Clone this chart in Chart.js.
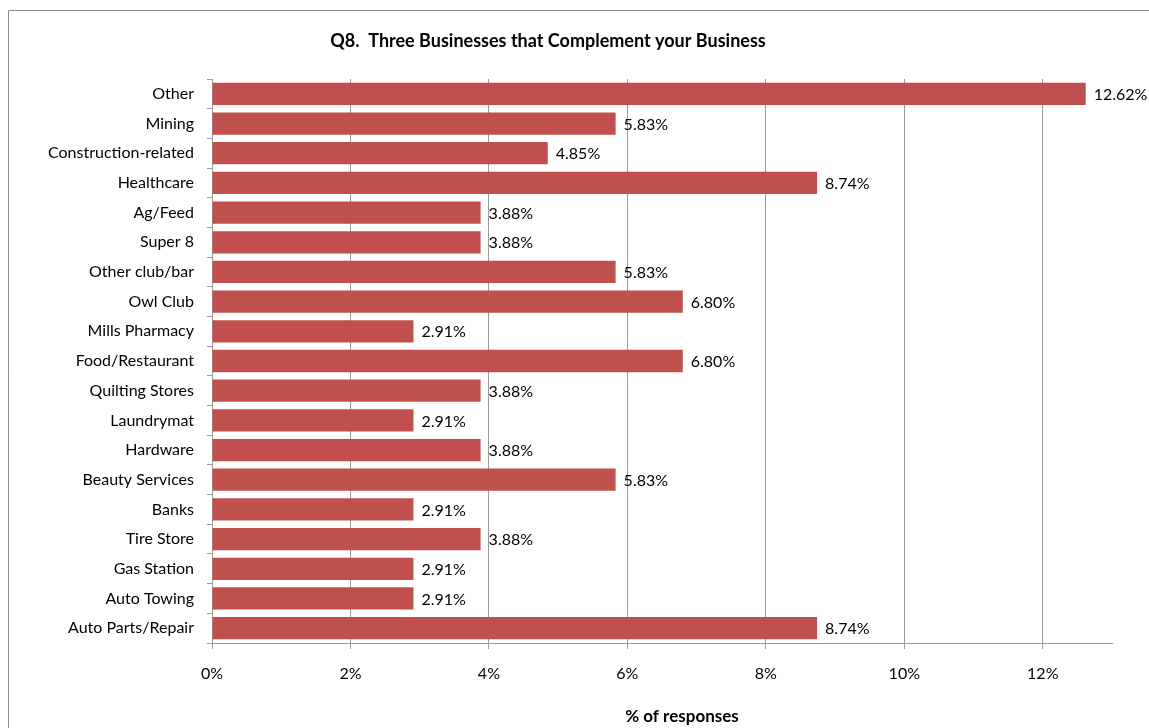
<!DOCTYPE html>
<html>
<head>
<meta charset="utf-8">
<script src="https://cdn.jsdelivr.net/npm/chart.js@4/dist/chart.umd.min.js"></script>
<style>
  html, body { margin: 0; padding: 0; background: #fff; }
  #wrap { position: relative; width: 1149px; height: 728px; }
</style>
</head>
<body>
<div id="wrap"><canvas id="c" width="1149" height="728"></canvas></div>
<script>
// Survey answers, top row first
const categories = [
  'Other', 'Mining', 'Construction-related', 'Healthcare', 'Ag/Feed', 'Super 8',
  'Other club/bar', 'Owl Club', 'Mills Pharmacy', 'Food/Restaurant', 'Quilting Stores',
  'Laundrymat', 'Hardware', 'Beauty Services', 'Banks', 'Tire Store', 'Gas Station',
  'Auto Towing', 'Auto Parts/Repair'
];
const percentages = [
  12.62, 5.83, 4.85, 8.74, 3.88, 3.88,
  5.83, 6.80, 2.91, 6.80, 3.88,
  2.91, 3.88, 5.83, 2.91, 3.88, 2.91,
  2.91, 8.74
];
const xTickValues = [0, 2, 4, 6, 8, 10, 12];
const chartTitle = 'Q8.  Three Businesses that Complement your Business';
const xAxisTitle = '% of responses';

const FONT = 'Lato, "Open Sans", sans-serif';

// Outer frame, chart heading and axis caption
const framePlugin = {
  id: 'frame',
  beforeDraw(chart) {
    const ctx = chart.ctx;
    ctx.save();
    ctx.fillStyle = '#fff';
    ctx.fillRect(0, 0, chart.width, chart.height);
    ctx.strokeStyle = '#8c8c8c';
    ctx.lineWidth = 1;
    ctx.beginPath();
    ctx.moveTo(8.5, chart.height);
    ctx.lineTo(8.5, 10.5);
    ctx.lineTo(chart.width, 10.5);
    ctx.stroke();
    ctx.fillStyle = '#000';
    ctx.textAlign = 'center';
    ctx.textBaseline = 'middle';
    ctx.font = 'bold 18px ' + FONT;
    ctx.fillText(chartTitle, 548, 41);
    ctx.font = 'bold 17px ' + FONT;
    ctx.fillText(xAxisTitle, 682, 717);
    ctx.restore();
  }
};

// Value labels to the right of each bar
const valueLabels = {
  id: 'valueLabels',
  afterDatasetsDraw(chart) {
    const ctx = chart.ctx;
    const meta = chart.getDatasetMeta(0);
    ctx.save();
    ctx.fillStyle = '#000';
    ctx.font = '16px ' + FONT;
    ctx.textAlign = 'left';
    ctx.textBaseline = 'middle';
    meta.data.forEach((bar, i) => {
      ctx.fillText(percentages[i].toFixed(2) + '%', bar.x + 8, bar.y + 1);
    });
    ctx.restore();
  }
};

new Chart(document.getElementById('c'), {
  type: 'bar',
  data: {
    labels: categories,
    datasets: [{
      data: percentages,
      backgroundColor: '#c0504d',
      borderWidth: 0,
      barPercentage: 0.75,
      categoryPercentage: 1.0
    }]
  },
  options: {
    indexAxis: 'y',
    responsive: false,
    animation: false,
    layout: { padding: { top: 79, right: 37, left: 0, bottom: 0 } },
    plugins: {
      legend: { display: false },
      title: { display: false },
      tooltip: { enabled: false }
    },
    scales: {
      x: {
        min: 0,
        max: 13,
        afterBuildTicks(scale) {
          scale.ticks = xTickValues.map(v => ({ value: v }));
        },
        afterFit(scale) { scale.height = 85; },
        grid: {
          color: '#9a9a9a',
          lineWidth: 1,
          drawTicks: true,
          tickLength: 6,
          tickColor: '#9a9a9a'
        },
        border: { display: true, color: '#9a9a9a' },
        ticks: {
          color: '#000',
          font: { family: FONT, size: 16 },
          padding: 15,
          maxRotation: 0,
          callback: v => v + '%'
        },
        title: { display: false }
      },
      y: {
        afterFit(scale) { scale.width = 212; },
        grid: {
          offset: true,
          drawOnChartArea: false,
          drawTicks: true,
          tickLength: 5,
          tickColor: '#9a9a9a'
        },
        border: { display: true, color: '#9a9a9a' },
        ticks: {
          color: '#000',
          font: { family: FONT, size: 16 },
          padding: 13,
          autoSkip: false
        }
      }
    }
  },
  plugins: [framePlugin, valueLabels]
});
</script>
</body>
</html>
